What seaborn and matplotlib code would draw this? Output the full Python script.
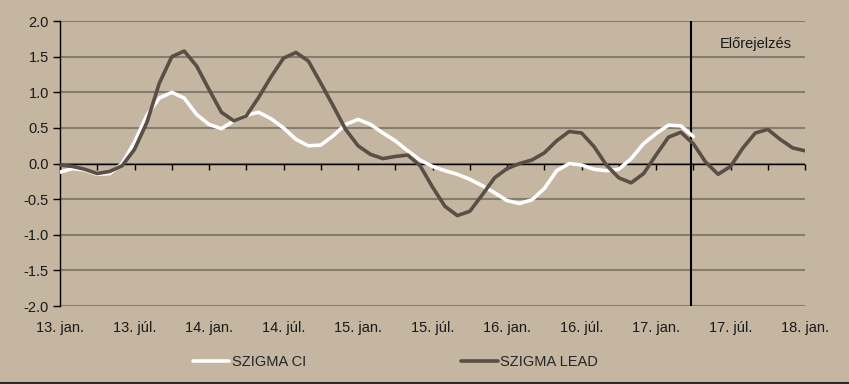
import numpy as np
import pandas as pd
import seaborn as sns
import matplotlib.pyplot as plt
from matplotlib.lines import Line2D

# monthly values, 2013 jan -> 2018 jan
lead = [-0.02, -0.04, -0.08, -0.14, -0.11, -0.03, 0.20, 0.58, 1.13, 1.50,
        1.58, 1.37, 1.04, 0.72, 0.60, 0.67, 0.93, 1.22, 1.48, 1.56,
        1.44, 1.13, 0.81, 0.48, 0.25, 0.13, 0.07, 0.10, 0.12,
        -0.03, -0.33, -0.60, -0.73, -0.67, -0.44, -0.20, -0.07, 0.00, 0.05, 0.15,
        0.32, 0.45, 0.43, 0.24, -0.02, -0.20, -0.27, -0.14, 0.12, 0.37,
        0.44, 0.28, 0.02, -0.15, -0.04, 0.22, 0.43, 0.48, 0.34, 0.22, 0.18]
ci = [-0.12, -0.07, -0.09, -0.15, -0.14, 0.00, 0.30, 0.68, 0.92, 1.00,
      0.92, 0.69, 0.55, 0.49, 0.60, 0.68, 0.72, 0.63, 0.50, 0.34,
      0.25, 0.26, 0.39, 0.55, 0.62, 0.55, 0.43, 0.32, 0.18, 0.05,
      -0.04, -0.10, -0.15, -0.22, -0.31, -0.41, -0.52, -0.56, -0.51, -0.35,
      -0.10, 0.00, -0.02, -0.08, -0.10, -0.08, 0.07, 0.28, 0.42, 0.54,
      0.53, 0.38]
xlabels = ['13. jan.', '13. júl.', '14. jan.', '14. júl.', '15. jan.', '15. júl.',
           '16. jan.', '16. júl.', '17. jan.', '17. júl.', '18. jan.']
forecast_start = 50.8

sns.set_style('ticks')
plt.rcParams['font.family'] = ['Liberation Sans', 'DejaVu Sans']
plt.rcParams['font.size'] = 10.5

bg = '#c4b6a0'
dark = '#5a4e45'
fig = plt.figure(figsize=(8.49, 3.84), dpi=100, facecolor=bg)
ax = fig.add_axes([0.0707, 0.203, 0.8775, 0.742])
ax.set_facecolor(bg)

ax.yaxis.grid(True, color='#857b6f', lw=1.5)
ax.set_axisbelow(True)

sns.lineplot(x=np.arange(len(ci)), y=ci, color='white', lw=2.6, label='SZIGMA CI', ax=ax, zorder=3)
sns.lineplot(x=np.arange(len(lead)), y=lead, color=dark, lw=2.6, label='SZIGMA LEAD', ax=ax, zorder=3)

ax.set_xlim(0, 60)
ax.set_ylim(-2, 2)
yt = np.arange(-2, 2.01, 0.5)
ax.set_yticks(yt)
ax.set_yticklabels([f'{v:.1f}' for v in yt], color='#1a1a1a')
ax.tick_params(axis='y', length=5, width=1, color='black', pad=3)

ax.set_xticks(range(0, 61, 6))
ax.set_xticklabels(xlabels, color='#1a1a1a')
ax.tick_params(axis='x', length=0, pad=11)

for s in ['top', 'right', 'bottom']:
    ax.spines[s].set_visible(False)
ax.spines['left'].set_color('black')
ax.spines['left'].set_linewidth(1)

# zero axis with quarterly ticks (pointing down)
ax.axhline(0, color='black', lw=1, zorder=2)
sec = ax.secondary_xaxis(0.5)
sec.set_xticks(range(0, 61, 3))
sec.set_xticklabels([])
sec.xaxis.set_ticks_position('bottom')
sec.tick_params(length=4, width=1, direction='out', color='black')
sec.spines['bottom'].set_color('black')
sec.spines['top'].set_visible(False)

ax.axvline(forecast_start, color='black', lw=1.5, zorder=2)
ax.text(53.1, 1.68, 'Előrejelzés', va='center', color='#1a1a1a')

h, l = ax.get_legend_handles_labels()
ax.get_legend().remove()
fig.legend(h, l, loc='center', bbox_to_anchor=(0.466, 0.057), ncol=2, frameon=False,
           handlelength=2.5, handletextpad=0.2, columnspacing=10.6)

fig.add_artist(Line2D([0, 1], [0.002, 0.002], color='#2a2a2a', lw=1.5, transform=fig.transFigure))

fig.savefig('out.png', dpi=100, facecolor=bg)
